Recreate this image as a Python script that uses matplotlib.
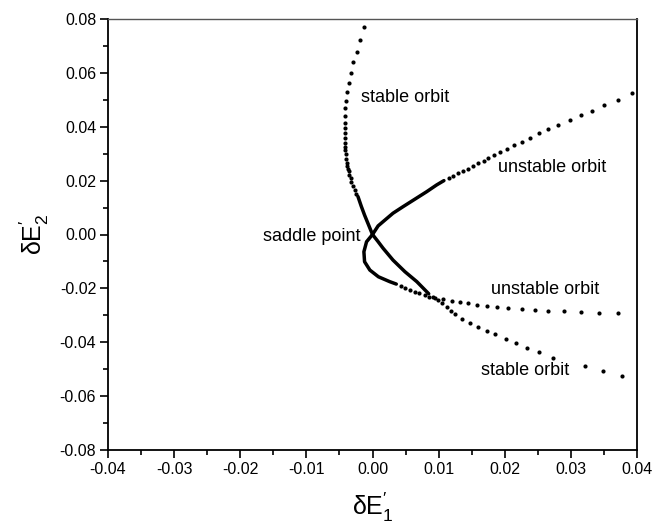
import matplotlib
matplotlib.use("Agg")
import matplotlib.pyplot as plt
from matplotlib.ticker import MultipleLocator, FormatStrFormatter

plt.rcParams['font.family'] = ['Liberation Sans', 'DejaVu Sans']
plt.rcParams['mathtext.fontset'] = 'custom'
plt.rcParams['mathtext.rm'] = 'Liberation Sans'
plt.rcParams['mathtext.it'] = 'Liberation Sans:italic'

# ---- data, each branch starts at the saddle point ----
# stable manifold, upper branch
stable_up_line_x = [0.0, -0.0006, -0.0012, -0.0017, -0.0022]
stable_up_line_y = [0.0, 0.0036, 0.0072, 0.0105, 0.0141]
stable_up_x = [-0.0025, -0.0027, -0.0030, -0.0032, -0.0033, -0.0035, -0.0036, -0.0037,
               -0.0038, -0.0039, -0.0040, -0.0040, -0.0041, -0.0041, -0.0042, -0.0042,
               -0.0042, -0.0042, -0.0042, -0.0042, -0.0041, -0.0040, -0.0038, -0.0035,
               -0.0033, -0.0029, -0.0024, -0.0019, -0.0013]
stable_up_y = [0.0152, 0.0166, 0.0180, 0.0194, 0.0208, 0.0222, 0.0236, 0.0245,
               0.0254, 0.0267, 0.0282, 0.0297, 0.0312, 0.0326, 0.0341, 0.0358,
               0.0376, 0.0395, 0.0413, 0.0441, 0.0468, 0.0497, 0.0530, 0.0564,
               0.0599, 0.0639, 0.0677, 0.0723, 0.0770]

# stable manifold, lower branch
stable_low_line_x = [0.0, 0.0008, 0.0016, 0.0031, 0.0049, 0.0067, 0.0077, 0.0085]
stable_low_line_y = [0.0, -0.0025, -0.0051, -0.0095, -0.0138, -0.0175, -0.0200, -0.0220]
stable_low_x = [0.0092, 0.0099, 0.0105, 0.0112, 0.0118, 0.0125, 0.0135, 0.0147, 0.0160,
                0.0173, 0.0185, 0.0202, 0.0217, 0.0234, 0.0252, 0.0273, 0.0321, 0.0348,
                0.0378]
stable_low_y = [-0.0231, -0.0243, -0.0256, -0.0268, -0.0283, -0.0296, -0.0312, -0.0328,
                -0.0343, -0.0359, -0.0371, -0.0388, -0.0404, -0.0421, -0.0438, -0.0457,
                -0.0489, -0.0507, -0.0526]

# unstable manifold, upper branch
unstable_up_line_x = [0.0, 0.00085, 0.0019, 0.0031, 0.0046, 0.0064, 0.0082, 0.0097, 0.0108]
unstable_up_line_y = [0.0, 0.0032, 0.0054, 0.0079, 0.0103, 0.0131, 0.0159, 0.0184, 0.0200]
unstable_up_x = [0.0115, 0.0122, 0.0130, 0.0137, 0.0144, 0.0152, 0.0160, 0.0168, 0.0175,
                 0.0184, 0.0193, 0.0203, 0.0214, 0.0226, 0.0238, 0.0252, 0.0266, 0.0281,
                 0.0298, 0.0315, 0.0332, 0.0350, 0.0372, 0.0393]
unstable_up_y = [0.0210, 0.0218, 0.0227, 0.0235, 0.0243, 0.0254, 0.0265, 0.0274, 0.0284,
                 0.0294, 0.0307, 0.0319, 0.0332, 0.0345, 0.0360, 0.0375, 0.0391, 0.0407,
                 0.0425, 0.0443, 0.0460, 0.0479, 0.0500, 0.0525]

# unstable manifold, lower (looping) branch
unstable_low_line_x = [0.0, -0.0009, -0.0013, -0.0012, -0.0004, 0.0009, 0.0026, 0.0036]
unstable_low_line_y = [0.0, -0.0027, -0.0064, -0.0101, -0.0132, -0.0157, -0.0175, -0.0184]
unstable_low_x = [0.0043, 0.0049, 0.0056, 0.0064, 0.0071, 0.0079, 0.0086, 0.0094,
                  0.0107, 0.0120, 0.0132, 0.0145, 0.0158, 0.0173, 0.0188, 0.0205, 0.0226,
                  0.0246, 0.0265, 0.0290, 0.0316, 0.0342, 0.0372]
unstable_low_y = [-0.0193, -0.0200, -0.0206, -0.0213, -0.0219, -0.0225, -0.0231,
                  -0.0236, -0.0241, -0.0247, -0.0252, -0.0256, -0.0260, -0.0265, -0.0268,
                  -0.0272, -0.0277, -0.0281, -0.0283, -0.0285, -0.0289, -0.0291, -0.0293]

labels = ["stable orbit", "unstable orbit", "saddle point", "unstable orbit", "stable orbit"]
label_x = [-0.0018, 0.0190, -0.0166, 0.0179, 0.0164]
label_y = [0.0507, 0.0247, -0.0008, -0.0206, -0.0504]

# ---- figure ----
fig = plt.figure(figsize=(6.64, 5.29), dpi=100)
ax = fig.add_axes([108/664, 1-450/529, (637-108)/664, (450-19)/529])

ms = 3.0
for lx, ly, px, py in [
    (stable_up_line_x, stable_up_line_y, stable_up_x, stable_up_y),
    (stable_low_line_x, stable_low_line_y, stable_low_x, stable_low_y),
    (unstable_up_line_x, unstable_up_line_y, unstable_up_x, unstable_up_y),
    (unstable_low_line_x, unstable_low_line_y, unstable_low_x, unstable_low_y),
]:
    ax.plot(lx, ly, '-', color='black', lw=2.5, solid_capstyle='round',
            solid_joinstyle='round')
    ax.plot(px, py, 'o', color='black', ms=ms, mew=0)

for t, x, y in zip(labels, label_x, label_y):
    ax.text(x, y, t, fontsize=13, ha='left', va='center')

ax.set_xlim(-0.04, 0.04)
ax.set_ylim(-0.08, 0.08)
ax.xaxis.set_major_locator(MultipleLocator(0.01))
ax.xaxis.set_minor_locator(MultipleLocator(0.005))
ax.yaxis.set_major_locator(MultipleLocator(0.02))
ax.yaxis.set_minor_locator(MultipleLocator(0.01))
ax.xaxis.set_major_formatter(FormatStrFormatter('%.2f'))
ax.yaxis.set_major_formatter(FormatStrFormatter('%.2f'))
ax.tick_params(which='both', direction='out', top=False, right=False, width=1.2,
               labelsize=11.5)
ax.tick_params(which='major', length=6, pad=2.5)
ax.tick_params(which='minor', length=3.5)
for s in ['left', 'bottom', 'right']:
    ax.spines[s].set_linewidth(1.3)
ax.spines['top'].set_linewidth(1.0)
ax.spines['top'].set_color('#555555')

ax.set_xlabel(r'$\mathregular{\delta E^{\prime}_{1}}$', fontsize=18, labelpad=10)
ax.set_ylabel(r'$\mathregular{\delta E^{\prime}_{2}}$', fontsize=18, labelpad=6)

fig.savefig('out.png', dpi=100)
